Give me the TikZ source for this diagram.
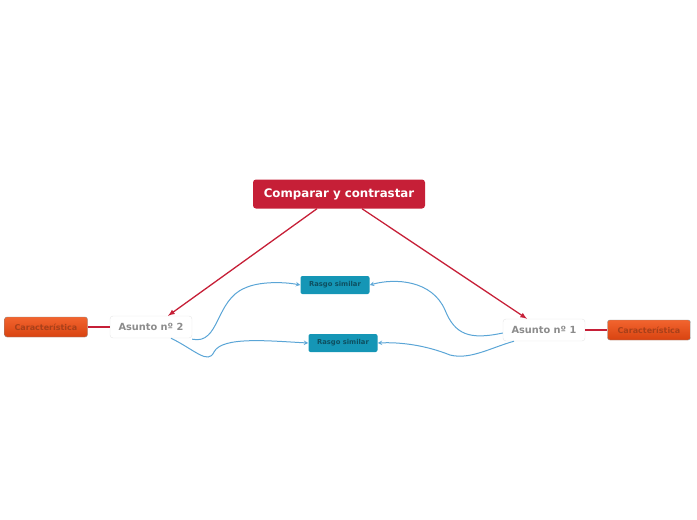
\documentclass[tikz,border=0pt]{standalone}
\usepackage{fontspec}
\setmainfont{DejaVu Sans}
\definecolor{crimson}{HTML}{C61F37}
\definecolor{tealbox}{HTML}{1596B6}
\definecolor{tealtext}{HTML}{0E4F60}
\definecolor{linkblue}{HTML}{5AA5D6}
\definecolor{orangetop}{HTML}{F2642E}
\definecolor{orangebot}{HTML}{D84310}
\definecolor{orangetext}{HTML}{A8401A}
\begin{document}
\begin{tikzpicture}[x=1pt, y=-1pt,
    mainbox/.style={fill=crimson, rounded corners=3pt, text=white, font=\bfseries\fontsize{11.8}{13}\selectfont,
      minimum width=172pt, minimum height=29pt, inner sep=0pt},
    topicbox/.style={fill=white, draw=black!10, rounded corners=3pt, text=black!45,
      font=\bfseries\fontsize{9.8}{11}\selectfont, minimum width=82pt, minimum height=22pt, inner sep=0pt},
    featbox/.style={top color=orangetop, bottom color=orangebot, draw=black!45, rounded corners=2.5pt,
      text=orangetext, font=\bfseries\fontsize{8}{9}\selectfont, minimum width=83pt, minimum height=20pt, inner sep=0pt},
    simbox/.style={fill=tealbox, rounded corners=2pt, text=tealtext,
      font=\bfseries\fontsize{6.8}{8}\selectfont, minimum width=69pt, minimum height=18pt, inner sep=0pt},
    branch/.style={crimson, line width=1.3pt},
    link/.style={linkblue, line width=1pt, -stealth}]
  \useasboundingbox (0,0) rectangle (697,520);

  % nodes
  \node[mainbox] (title) at (339,194) {Comparar y contrastar};
  \node[topicbox] (topicB) at (151,327) {Asunto nº 2};
  \node[topicbox] (topicA) at (544,330) {Asunto nº 1};
  \node[featbox] (featB) at (46,327) {Característica};
  \node[featbox] (featA) at (649,330) {Característica};
  \node[simbox] (simA) at (335,285) {Rasgo similar};
  \node[simbox] (simB) at (343,343) {Rasgo similar};

  % branches
  \draw[branch, -latex] ([xshift=-22pt]title.south) -- ([xshift=17pt]topicB.north);
  \draw[branch, -latex] ([xshift=23pt]title.south) -- ([xshift=-17pt]topicA.north);
  \draw[branch] (featB) -- (topicB);
  \draw[branch] (topicA) -- (featA);

  % similarities
  \draw[link] ([yshift=-1pt]topicB.south east) .. controls (220,345) and (215,300) .. (245,288)
    .. controls (260,281) and (285,282) .. (simA.west);
  \draw[link] ([xshift=20pt]topicB.south) .. controls (195,350) and (208,365) .. (214,352)
    .. controls (222,336) and (270,341) .. (simB.west);
  \draw[link] ([yshift=-3pt]topicA.west) .. controls (470,340) and (455,335) .. (445,310)
    .. controls (432,280) and (395,278) .. (simA.east);
  \draw[link] ([xshift=-30pt]topicA.south) .. controls (490,348) and (470,360) .. (450,355)
    .. controls (425,345) and (400,342) .. (simB.east);
\end{tikzpicture}
\end{document}
